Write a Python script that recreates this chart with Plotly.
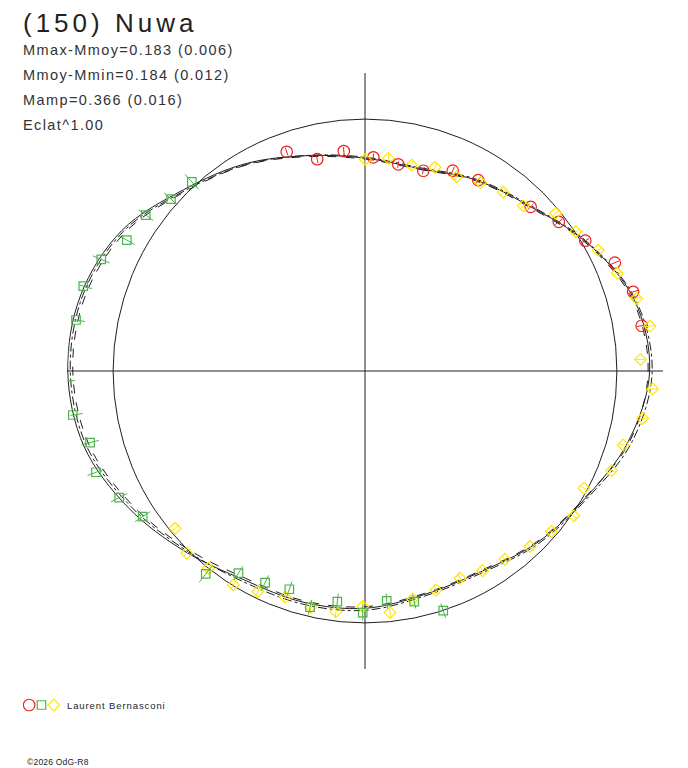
import plotly.graph_objects as go

# Light curve of (150) Nuwa drawn as polar plot:
# angle = rotational phase, radius = brightness relative to mean (Eclat^1.00)

# observer: red circles
red_phase = [0.9454, 0.9647, 0.9847, 0.0062, 0.0254, 0.0451, 0.0657, 0.0852,
             0.1257, 0.1456, 0.1650, 0.1849, 0.2043, 0.2242]
red_flux = [0.924, 0.862, 0.877, 0.849, 0.831, 0.828, 0.868, 0.881,
            0.926, 0.971, 1.016, 1.081, 1.110, 1.113]
red_err = [0.016, 0.015, 0.016, 0.015, 0.014, 0.015, 0.016, 0.016,
           0.016, 0.018, 0.018, 0.018, 0.020, 0.020]

# observer: green squares
green_phase = [0.4498, 0.4665, 0.4850, 0.5015, 0.5190, 0.5364, 0.5531, 0.5702,
               0.5890, 0.6059, 0.6577, 0.6743, 0.6927, 0.7094, 0.7262, 0.7447,
               0.7614, 0.7778, 0.7966, 0.8137, 0.8300, 0.8484, 0.8654, 0.8820]
green_flux = [1.001, 0.936, 0.917, 0.959, 0.922, 0.963, 0.917, 0.929,
              0.947, 1.024, 1.055, 1.098, 1.141, 1.128, 1.173, 1.194,
              1.200, 1.165, 1.168, 1.137, 1.079, 1.068, 1.029, 1.018]
green_err = [0.030, 0.028, 0.030, 0.032, 0.032, 0.030, 0.032, 0.032,
             0.032, 0.042, 0.036, 0.036, 0.036, 0.036, 0.040, 0.042,
             0.042, 0.036, 0.036, 0.036, 0.036, 0.036, 0.036, 0.040]

# observer: yellow diamonds
yellow_phase = [0.0002, 0.0174, 0.0355, 0.0527, 0.0702, 0.0875, 0.1048, 0.1216,
                0.1400, 0.1571, 0.1739, 0.1912, 0.2084, 0.2251, 0.2433, 0.2599,
                0.2769, 0.2944, 0.3111, 0.3282, 0.3465, 0.3631, 0.3800, 0.3983,
                0.4153, 0.4316, 0.4501, 0.4672, 0.4836, 0.5016, 0.5191, 0.5359,
                0.5541, 0.5719, 0.5878, 0.6068, 0.6232, 0.6399]
yellow_flux = [0.840, 0.849, 0.838, 0.855, 0.853, 0.878, 0.897, 0.908,
               0.982, 1.003, 1.043, 1.074, 1.116, 1.145, 1.095, 1.144,
               1.118, 1.066, 1.056, 0.986, 1.009, 0.977, 0.956, 0.931,
               0.920, 0.905, 0.914, 0.925, 0.964, 0.935, 0.962, 0.962,
               0.952, 0.973, 0.997, 1.000, 1.012, 0.979]
yellow_err = [0.020, 0.018, 0.018, 0.018, 0.018, 0.018, 0.018, 0.018,
              0.018, 0.018, 0.018, 0.018, 0.020, 0.020, 0.020, 0.020,
              0.020, 0.020, 0.020, 0.020, 0.020, 0.020, 0.020, 0.020,
              0.020, 0.020, 0.020, 0.020, 0.022, 0.022, 0.022, 0.022,
              0.022, 0.022, 0.022, 0.022, 0.022, 0.022]

# fitted model curves, every 15 degrees of phase
curve_phase = [i / 24 for i in range(25)]
curve_mid = [0.845, 0.832, 0.876, 0.925, 1.018, 1.105, 1.130, 1.082, 1.010, 0.965,
             0.920, 0.918, 0.942, 0.950, 0.958, 1.012, 1.085, 1.155, 1.180, 1.168,
             1.115, 1.018, 0.950, 0.885, 0.845]
curve_hi = [0.841, 0.829, 0.873, 0.921, 1.014, 1.099, 1.124, 1.087, 1.007, 0.961,
            0.916, 0.914, 0.936, 0.944, 0.950, 0.998, 1.066, 1.134, 1.160, 1.150,
            1.100, 1.008, 0.944, 0.881, 0.841]
curve_lo = [0.849, 0.836, 0.880, 0.929, 1.021, 1.110, 1.140, 1.096, 1.016, 0.971,
            0.926, 0.924, 0.950, 0.958, 0.966, 1.006, 1.074, 1.145, 1.170, 1.160,
            1.108, 1.012, 0.946, 0.886, 0.849]

r_max = 1.183  # half length of the cross lines (mean circle = 1)

title = "(150) Nuwa"
stats = ["Mmax-Mmoy=0.183 (0.006)", "Mmoy-Mmin=0.184 (0.012)",
         "Mamp=0.366 (0.016)", "Eclat^1.00"]
observer = "Laurent Bernasconi"
footer = "\u00a92026 OdG-R8"

RED = "#ee2020"
GREEN = "#4db34d"
YELLOW = "#ffe600"
INK = "#1e1e1e"


def err_segments(phase, flux, err):
    """Radial error bar segments separated by None."""
    th, rr = [], []
    for p, f, e in zip(phase, flux, err):
        th += [p * 360, p * 360, None]
        rr += [f - e, f + e, None]
    return th, rr


fig = go.Figure()

for c, dash in [(curve_hi, "dash"), (curve_lo, "dashdot"), (curve_mid, "solid")]:
    fig.add_trace(go.Scatterpolar(
        theta=[p * 360 for p in curve_phase], r=c, mode="lines",
        line=dict(color=INK, width=1, dash=dash, shape="spline"),
        hoverinfo="skip"))

series = [
    (red_phase, red_flux, red_err, RED, "circle-open", 11.5),
    (yellow_phase, yellow_flux, yellow_err, YELLOW, "diamond-open", 9),
    (green_phase, green_flux, green_err, GREEN, "square-open", 8.5),
]
for ph, fl, er, col, sym, size in series:
    th, rr = err_segments(ph, fl, er)
    fig.add_trace(go.Scatterpolar(theta=th, r=rr, mode="lines",
                                  line=dict(color=col, width=1), cliponaxis=False,
                                  hoverinfo="skip"))
    fig.add_trace(go.Scatterpolar(
        theta=[p * 360 for p in ph], r=fl, mode="markers", cliponaxis=False,
        marker=dict(symbol=sym, size=size, color=col, line=dict(width=1.2, color=col))))

# legend symbols on a tiny cartesian axis
for i, (col, sym, size) in enumerate([(RED, "circle-open", 11.5), (GREEN, "square-open", 8.5),
                                      (YELLOW, "diamond-open", 9)]):
    fig.add_trace(go.Scatter(x=[i], y=[0], mode="markers", xaxis="x", yaxis="y",
                             marker=dict(symbol=sym, size=size, color=col,
                                         line=dict(width=1.2, color=col))))

W, H = 688, 768
OFF = 8  # page body margin shifts the figure by 8 px
cx, cy, R = 365 - OFF, 371 - OFF, 298

fig.update_layout(
    width=W, height=H,
    margin=dict(l=0, r=0, t=0, b=0),
    paper_bgcolor="white", plot_bgcolor="white",
    showlegend=False,
    polar=dict(
        domain=dict(x=[(cx - R) / W, (cx + R) / W], y=[(H - cy - R) / H, (H - cy + R) / H]),
        bgcolor="white",
        radialaxis=dict(range=[0, r_max], tickvals=[1], showticklabels=False, ticks="",
                        showline=False, showgrid=True, gridcolor=INK, gridwidth=1),
        angularaxis=dict(rotation=90, direction="clockwise", tickvals=[0, 90, 180, 270],
                         showticklabels=False, ticks="", showline=False,
                         showgrid=True, gridcolor=INK, gridwidth=1.3),
    ),
    xaxis=dict(domain=[(23 - OFF) / W, (60 - OFF) / W], range=[-0.5, 2.5], visible=False,
               fixedrange=True),
    yaxis=dict(domain=[(H - 712 + OFF) / H, (H - 698 + OFF) / H], range=[-1, 1],
               visible=False, fixedrange=True),
)

ann = [dict(text=f'<span style="letter-spacing:4px">{title}</span>', x=(21 - OFF) / W,
            y=1 - (23 - OFF) / H, font=dict(family="Liberation Sans", size=26, color="#222222"))]
for k, s in enumerate(stats):
    ann.append(dict(text=f'<span style="letter-spacing:1.4px">{s}</span>', x=(21 - OFF) / W,
                    y=1 - (50 + 25 * k - OFF) / H,
                    font=dict(family="Liberation Sans", size=14.5, color="#333333")))
ann.append(dict(text=f'<span style="letter-spacing:0.9px">{observer}</span>', x=(65 - OFF) / W,
                y=1 - (705 - OFF) / H,
                font=dict(family="Liberation Sans", size=9.5, color="#222222")))
ann.append(dict(text=f'<span style="letter-spacing:0.2px">{footer}</span>', x=(25 - OFF) / W,
                y=1 - (762 - OFF) / H,
                font=dict(family="Liberation Sans", size=8.5, color="#222222")))
for a in ann:
    a.update(xref="paper", yref="paper", xanchor="left", yanchor="middle", showarrow=False)
fig.update_layout(annotations=ann)

fig.write_html("out.html")
